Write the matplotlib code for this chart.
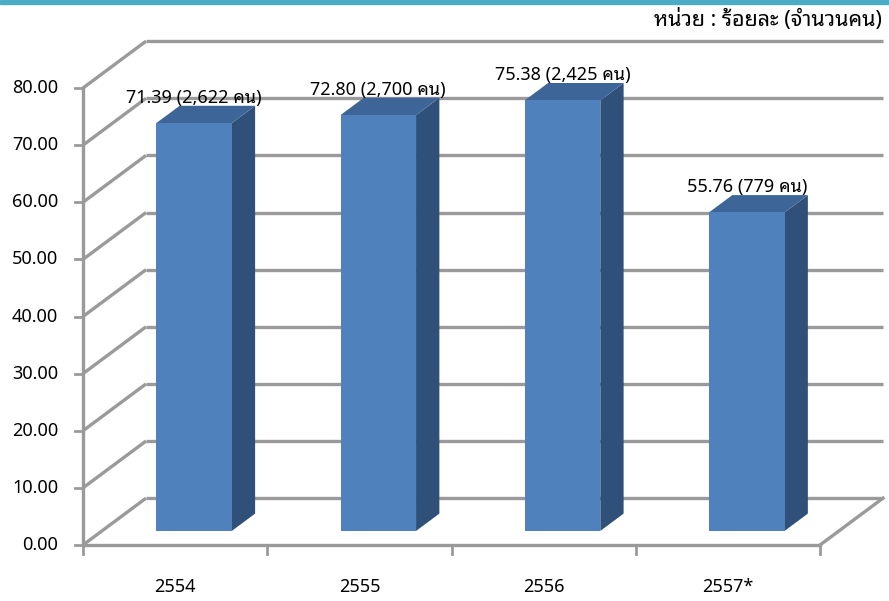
import matplotlib
matplotlib.use("Agg")
import matplotlib.pyplot as plt
from matplotlib.patches import Polygon, Rectangle

# data
years = ['2554', '2555', '2556', '2557*']
percent = [71.39, 72.80, 75.38, 55.76]
persons = ['2,622', '2,700', '2,425', '779']
y_ticks = [0, 10, 20, 30, 40, 50, 60, 70, 80]
unit_title = 'หน่วย : ร้อยละ (จำนวนคน)'

FONT = ['Noto Sans Thai Looped', 'DejaVu Sans']
plt.rcParams['font.family'] = FONT

# oblique "3D" look: depth shifts points right and up (in data units)
DEPTH_X = 0.342
DEPTH_Y = 8.2
BAR_W = 0.41
D0, D1 = 0.30, 0.67

GRID = '#9a9a9a'
FRONT = '#4f81bd'
TOP = '#3e6598'
SIDE = '#2f5179'


def proj(x, v, d):
    return (x + d * DEPTH_X, v + d * DEPTH_Y)


fig = plt.figure(figsize=(8.89, 6.01), dpi=100)
ax = fig.add_axes([83 / 889, 56 / 601, 737 / 889, 457 / 601])
ax.set_xlim(0, len(years))
ax.set_ylim(0, 80)
ax.axis('off')

# teal band at the top
fig.patches.append(Rectangle((0, 1 - 4 / 601), 1, 4 / 601, transform=fig.transFigure,
                             color='#4bacc6', zorder=0))

n = len(years)
lw = 2.4

# back wall gridlines + left wall diagonals
for v in y_ticks:
    xs, ys = zip(proj(0, v, 1), proj(n, v, 1))
    ax.plot(xs, ys, color=GRID, lw=lw, solid_capstyle='butt', clip_on=False, zorder=1)
    xs, ys = zip(proj(0, v, 0), proj(0, v, 1))
    ax.plot(xs, ys, color=GRID, lw=lw, solid_capstyle='butt', clip_on=False, zorder=1)
    # tick mark on front left axis
    ax.plot([-0.045, 0], [v, v], color=GRID, lw=2, clip_on=False, zorder=2)
    ax.text(-0.135, v, f'{v:.2f}', ha='right', va='center', fontsize=13, color='#000000')

# floor right edge, front axes
xs, ys = zip(proj(n, 0, 0), proj(n, 0, 1))
ax.plot(xs, ys, color=GRID, lw=lw, clip_on=False, zorder=1)
ax.plot([0, 0], [0, 80], color=GRID, lw=lw, clip_on=False, zorder=2)
ax.plot([0, n], [0, 0], color=GRID, lw=lw, clip_on=False, zorder=2)
for i in range(n + 1):
    ax.plot([i, i], [0, -1.5], color=GRID, lw=2, clip_on=False, zorder=2)

# bars
for i, (val, who) in enumerate(zip(percent, persons)):
    xl = i + 0.5 - BAR_W / 2
    xr = i + 0.5 + BAR_W / 2
    front = [proj(xl, 0, D0), proj(xr, 0, D0), proj(xr, val, D0), proj(xl, val, D0)]
    side = [proj(xr, 0, D0), proj(xr, 0, D1), proj(xr, val, D1), proj(xr, val, D0)]
    top = [proj(xl, val, D0), proj(xr, val, D0), proj(xr, val, D1), proj(xl, val, D1)]
    ax.add_patch(Polygon(side, closed=True, fc=SIDE, ec='none', clip_on=False, zorder=3))
    ax.add_patch(Polygon(top, closed=True, fc=TOP, ec='none', clip_on=False, zorder=3))
    ax.add_patch(Polygon(front, closed=True, fc=FRONT, ec='none', clip_on=False, zorder=3))
    ax.annotate(f'{val:.2f} ({who} คน)', xy=proj(i + 0.5, val, D0), xytext=(0, 18),
                textcoords='offset points', ha='center', va='center', fontsize=13,
                color='#000000', zorder=5, annotation_clip=False)

# category labels
for i, yr in enumerate(years):
    ax.text(i + 0.5, -7.3, yr, ha='center', va='center', fontsize=13)

fig.text(882 / 889, 1 - 20 / 601, unit_title, ha='right', va='center', fontsize=15.5)

fig.savefig('out.png', dpi=100)
